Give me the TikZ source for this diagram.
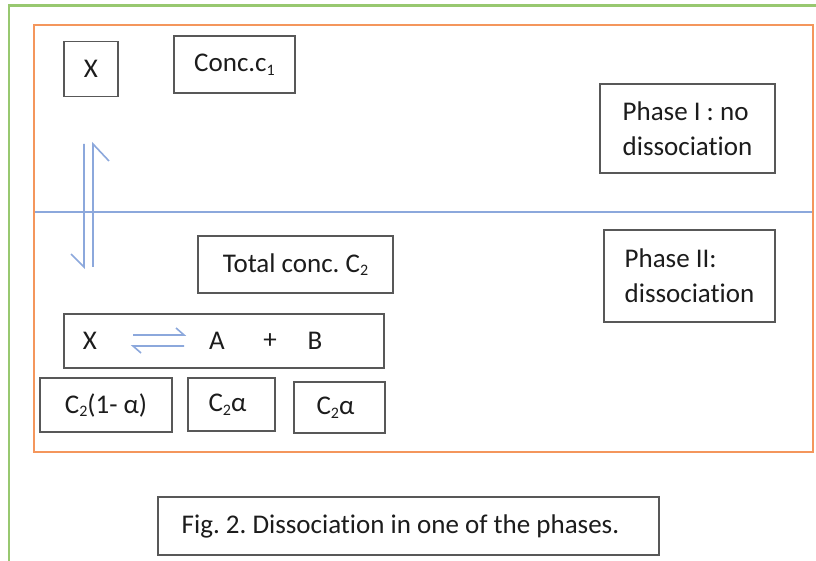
\documentclass[tikz,border=0pt]{standalone}
\usepackage{fontspec}
\setmainfont{Carlito}[Ligatures={NoCommon}]
\frenchspacing
\definecolor{framegreen}{RGB}{152,200,112}
\definecolor{phaseorange}{RGB}{244,150,92}
\definecolor{linkblue}{RGB}{140,168,220}
\definecolor{boxgray}{RGB}{88,88,88}
\definecolor{ink}{RGB}{28,28,28}
% small lowered index digit
\newcommand\lowidx[1]{\raisebox{-3.5pt}{\fontsize{16}{16}\selectfont #1}}
\begin{document}
\begin{tikzpicture}[x=1pt,y=-1pt,
  box/.style={draw=boxgray, line width=1.8pt, rectangle, inner sep=0pt,
    font=\fontsize{27}{35}\selectfont, text=ink},
  word/.style={inner sep=0pt, font=\fontsize{27}{35}\selectfont, text=ink},
  harp/.style={draw=linkblue, line width=1.6pt, line join=miter},
]
\useasboundingbox (0,0) rectangle (816,561);
\clip (0,0) rectangle (816,561);
\fill[white] (0,0) rectangle (816,561);

% outer frame and the two-phase container
\draw[framegreen, line width=2.8pt] (9,5.5) rectangle (860,620);
\draw[linkblue, line width=1.6pt] (34,212) -- (813,212);
\draw[phaseorange, line width=2.6pt] (34,25) rectangle (813,452);

% phase I
\node[box, minimum width=54pt, minimum height=55pt] (x1) at (91,69) {X};
\node[box, minimum width=121pt, minimum height=57pt] (c1) at (234.5,64.5) {Conc.c\lowidx{1}};
\node[box, minimum width=175pt, minimum height=89pt, align=left] (ph1) at (687.5,128.5)
  {Phase I : no\\dissociation};

% phase II
\node[box, minimum width=195pt, minimum height=57pt] (c2) at (295.5,264.5) {Total conc. C\lowidx{2}};
\node[box, minimum width=171pt, minimum height=92pt, align=left] (ph2) at (689.5,276)
  {Phase II:\\dissociation};

% reaction X <=> A + B
\node[box, minimum width=320pt, minimum height=54pt] (eq) at (224,341) {};
\node[word] (ex) at (90,341) {X};
\node[word] (ea) at (217,341) {A};
\node[word] (ep) at (270,341) {+};
\node[word] (eb) at (315,341) {B};

\node[box, minimum width=132pt, minimum height=54pt] (cx) at (106,405) {C\lowidx{2}(1- α)};
\node[box, minimum width=87pt, minimum height=53pt] (ca) at (231.5,404.5) {\raisebox{2pt}{C\lowidx{2}α}\hspace*{8pt}};
\node[box, minimum width=91pt, minimum height=51pt] (cb) at (339.5,407.5) {C\lowidx{2}α\hspace*{8pt}};

% caption
\node[box, minimum width=501pt, minimum height=58pt] (cap) at (408.5,526)
  {Fig. 2. Dissociation in one of the phases.\hspace*{16pt}};

% equilibrium harpoons
\coordinate (hl) at (133,335);
\coordinate (hr) at (184,335);
\coordinate (hl2) at (133,346);
\coordinate (hr2) at (184,346);
\draw[harp] (hl) -- (hr) -- ++(-8,-7);
\draw[harp] (hr2) -- (hl2) -- ++(8,7);

\coordinate (vtl) at (84,144);
\coordinate (vbl) at (84,267);
\coordinate (vtr) at (93,144);
\coordinate (vbr) at (93,267);
\draw[harp] (vtl) -- (vbl) -- ++(-13,-13);
\draw[harp] (vbr) -- (vtr) -- ++(16,17);
\end{tikzpicture}
\end{document}
